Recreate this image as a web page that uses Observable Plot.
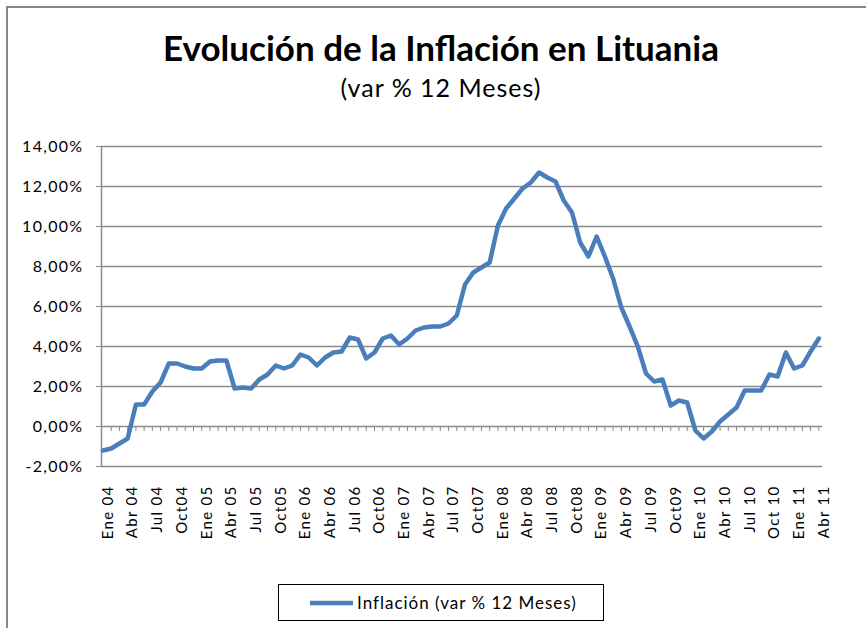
<!DOCTYPE html>
<html><head><meta charset="utf-8">
<script src="https://cdn.jsdelivr.net/npm/d3@7"></script>
<script src="https://cdn.jsdelivr.net/npm/@observablehq/plot@0.6"></script>
<style>
html,body{margin:0;padding:0;background:#fff;overflow:hidden}
#wrap{position:relative;width:866px;height:628px;font-family:Lato,"Open Sans",sans-serif}
#chart{position:absolute;left:0;top:0}
#deco{position:absolute;left:0;top:0;pointer-events:none}
</style></head><body>
<div id="wrap">
<div id="chart"></div>
<svg id="deco" width="866" height="628" font-family="Lato, 'Open Sans', sans-serif">
 <path d="M7,640 V7 H880" fill="none" stroke="#878787" stroke-width="2"/>
 <text id="title" x="441" y="61" text-anchor="middle" font-size="35" font-weight="bold" fill="#000"></text>
 <text id="subtitle" x="441" y="97" text-anchor="middle" font-size="25" letter-spacing="1" fill="#000"></text>
 <rect x="278.5" y="584.5" width="325" height="36" fill="none" stroke="#000" stroke-width="1"/>
 <line x1="310" x2="353" y1="603" y2="603" stroke="#4a7ebb" stroke-width="4.5"/>
 <text id="legendText" x="357" y="609" font-size="17" letter-spacing="1" fill="#000"></text>
</svg>
</div>
<script>
const titleText = "Evolución de la Inflación en Lituania";
const subtitleText = "(var % 12 Meses)";
const seriesName = "Inflación (var % 12 Meses)";

// Monthly year-on-year inflation, Jan 2004 .. Apr 2011 (%)
const inflation2004 = [-1.2, -1.1, -0.85, -0.6, 1.1, 1.1, 1.75, 2.2, 3.15, 3.15, 3.0, 2.9];
const inflation2005 = [2.9, 3.25, 3.3, 3.3, 1.9, 1.95, 1.9, 2.35, 2.6, 3.05, 2.9, 3.05];
const inflation2006 = [3.6, 3.45, 3.05, 3.45, 3.7, 3.75, 4.45, 4.35, 3.4, 3.7, 4.4, 4.55];
const inflation2007 = [4.1, 4.4, 4.8, 4.95, 5.0, 5.0, 5.15, 5.55, 7.1, 7.7, 7.95, 8.2];
const inflation2008 = [10.05, 10.9, 11.4, 11.9, 12.2, 12.7, 12.45, 12.25, 11.3, 10.7, 9.2, 8.5];
const inflation2009 = [9.5, 8.5, 7.4, 5.95, 5.0, 4.0, 2.65, 2.25, 2.35, 1.05, 1.3, 1.2];
const inflation2010 = [-0.2, -0.6, -0.25, 0.25, 0.6, 0.95, 1.8, 1.8, 1.8, 2.6, 2.5, 3.7];
const inflation2011 = [2.9, 3.05, 3.75, 4.4];

const tickLabels = ["Ene 04","Abr 04","Jul 04","Oct04","Ene 05","Abr 05","Jul 05","Oct05",
  "Ene 06","Abr 06","Jul 06","Oct06","Ene 07","Abr 07","Jul 07","Oct07",
  "Ene 08","Abr 08","Jul 08","Oct08","Ene 09","Abr 09","Jul 09","Oct09",
  "Ene 10","Abr 10","Jul 10","Oct 10","Ene 11","Abr 11"];
const yTicks = [-2, 0, 2, 4, 6, 8, 10, 12, 14];

const inflation = [].concat(inflation2004, inflation2005, inflation2006, inflation2007,
  inflation2008, inflation2009, inflation2010, inflation2011);
const data = inflation.map((v, i) => ({i, v}));
const tickIdx = tickLabels.map((_, k) => k * 3);
const monthIdx = d3.range(1, inflation.length);

document.getElementById("title").textContent = titleText;
document.getElementById("subtitle").textContent = subtitleText;
document.getElementById("legendText").textContent = seriesName;

const chart = Plot.plot({
  width: 866, height: 628,
  marginTop: 146, marginBottom: 162, marginLeft: 101, marginRight: 44,
  style: {fontFamily: "Lato, 'Open Sans', sans-serif", fontSize: "16px", color: "#000",
    background: "transparent", letterSpacing: "1.3px"},
  x: {domain: [-0.18, 87.45], label: null},
  y: {domain: [-2, 14], label: null},
  marks: [
    Plot.ruleY(yTicks, {stroke: "#8a8a8a", strokeWidth: 1.3}),
    Plot.ruleX([-0.18], {stroke: "#8a8a8a", strokeWidth: 1.5}),
    Plot.ruleX(monthIdx, {x: d => d, y1: 0, y2: -0.25, stroke: "#8a8a8a", strokeWidth: 1}),
    Plot.axisY({ticks: yTicks, tickSize: 5, tickPadding: 13, label: null,
      tickFormat: d => d.toFixed(2).replace(".", ",") + "%", stroke: "#8a8a8a", fontSize: 16}),
    Plot.axisX({ticks: tickIdx, tickFormat: d => tickLabels[Math.round(d / 3)], tickRotate: -90,
      tickSize: 0, tickPadding: 19, fontSize: 15, dx: 5, label: null}),
    Plot.line(data, {x: "i", y: "v", stroke: "#4a7ebb", strokeWidth: 4.5,
      strokeLinejoin: "round", strokeLinecap: "round"})
  ]
});
document.getElementById("chart").appendChild(chart);
</script>
</body></html>
